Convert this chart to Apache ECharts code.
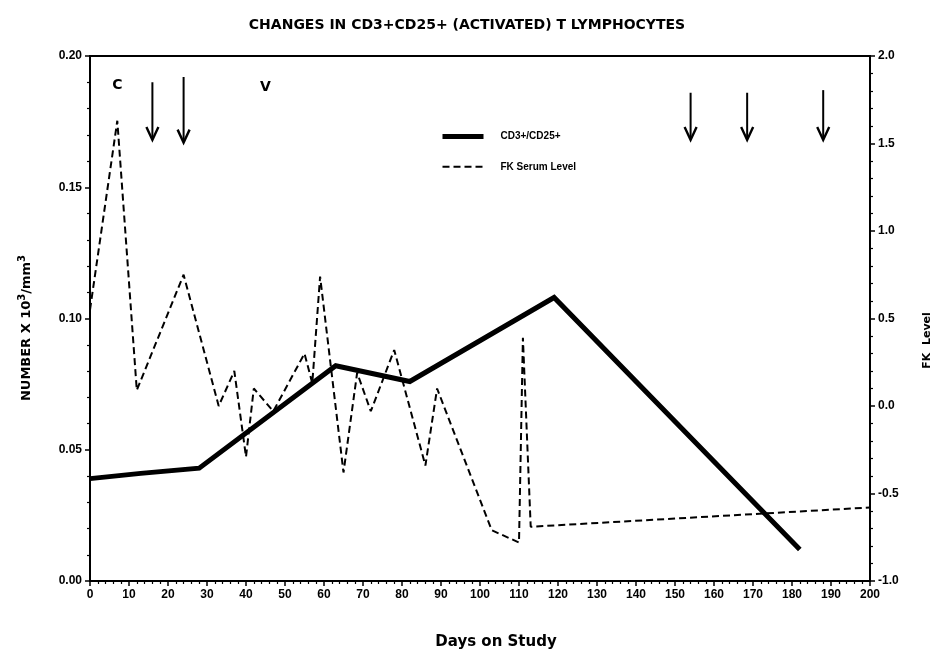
<!DOCTYPE html>
<html>
<head>
<meta charset="utf-8">
<script src="https://cdn.jsdelivr.net/npm/echarts@6/dist/echarts.min.js"></script>
<style>
  html, body { margin: 0; padding: 0; background: #fff; }
  #main { width: 934px; height: 649px; }
</style>
</head>
<body>
<div id="main"></div>
<script>
// CD3+/CD25+ count (x 10^3 / mm3) by study day
const cdDays = [0, 13, 28, 63, 82, 119, 182];
const cdValues = [0.039, 0.041, 0.043, 0.082, 0.076, 0.108, 0.012];

// FK serum level by study day (right axis)
const fkDays = [0, 7, 12, 24, 33, 37, 40, 42, 47, 55, 57, 59, 65, 68.5, 72, 78, 86, 89, 103, 110, 111, 113, 200];
const fkValues = [0.55, 1.63, 0.09, 0.75, 0.0, 0.2, -0.29, 0.1, -0.03, 0.3, 0.13, 0.74, -0.38, 0.19, -0.03, 0.32, -0.34, 0.1, -0.71, -0.78, 0.39, -0.69, -0.58];

// down arrows near the top: day, tail, tip (left axis units)
const arrowDays = [16, 24, 154, 168.5, 188];
const arrowTops = [0.190, 0.192, 0.186, 0.186, 0.187];
const arrowTips = [0.168, 0.167, 0.168, 0.168, 0.168];

// letter notes
const noteDays = [7, 45];
const noteValues = [0.189, 0.188];
const noteLabels = ['C', 'V'];

const FONT = '"Liberation Sans", Arial, sans-serif';
const WIDE = '"DejaVu Sans", Verdana, sans-serif';

const chart = echarts.init(document.getElementById('main'));

const boldText = function (size, family) {
    return { fontFamily: family || FONT, fontWeight: 'bold', fontSize: size, color: '#000' };
};

const axisCommon = {
    axisLine: { show: true, lineStyle: { color: '#000', width: 2 } },
    axisTick: { show: true, length: 5, lineStyle: { color: '#000', width: 1.5 } },
    minorTick: { show: true, splitNumber: 5, length: 3, lineStyle: { color: '#000', width: 1.2 } },
    splitLine: { show: false },
    minorSplitLine: { show: false }
};

const option = {
    backgroundColor: '#fff',
    animation: false,
    title: {
        text: 'CHANGES IN CD3+CD25+ (ACTIVATED) T LYMPHOCYTES',
        left: 'center',
        top: 13,
        textStyle: boldText(14, WIDE)
    },
    grid: {
        left: 90, right: 64, top: 56, bottom: 68,
        outerBoundsMode: 'none',
        containLabel: false,
        show: true, borderColor: '#000', borderWidth: 2
    },
    legend: {
        orient: 'vertical',
        left: 440,
        top: 131,
        padding: 0,
        itemWidth: 41,
        itemHeight: 14,
        itemGap: 19,
        data: [
            { name: 'CD3+/CD25+', lineStyle: { width: 5 }, itemStyle: { opacity: 0 } },
            { name: 'FK Serum Level', lineStyle: { width: 2 }, itemStyle: { opacity: 0 } }
        ],
        textStyle: Object.assign(boldText(10), { padding: [0, 0, 0, 12] })
    },
    xAxis: Object.assign({
        type: 'value',
        min: 0, max: 200, interval: 10,
        name: 'Days on Study',
        nameLocation: 'middle',
        nameGap: 54,
        nameTextStyle: Object.assign(boldText(15, WIDE), { padding: [0, 0, 0, 32] }),
        axisLabel: Object.assign(boldText(12), { margin: 8 })
    }, axisCommon),
    yAxis: [
        Object.assign({
            type: 'value',
            position: 'left',
            min: 0, max: 0.2, interval: 0.05,
            name: '{b|NUMBER X 10}{s|3}{b|/mm}{s|3}',
            nameLocation: 'middle',
            nameRotate: 90,
            nameGap: 54,
            nameTextStyle: {
                padding: [0, 19, 0, 0],
                rich: {
                    b: boldText(13, WIDE),
                    s: Object.assign(boldText(10, WIDE), { verticalAlign: 'bottom', padding: [0, 0, 9, 0] })
                }
            },
            axisLabel: Object.assign(boldText(12), {
                margin: 8,
                formatter: function (v) { return v.toFixed(2); }
            })
        }, axisCommon),
        Object.assign({
            type: 'value',
            position: 'right',
            min: -1, max: 2, interval: 0.5,
            name: 'FK  Level',
            nameLocation: 'middle',
            nameRotate: 90,
            nameGap: 52,
            nameTextStyle: Object.assign(boldText(11, WIDE), { padding: [0, 44, 0, 0] }),
            axisLabel: Object.assign(boldText(12), {
                margin: 8,
                formatter: function (v) { return v.toFixed(1); }
            })
        }, axisCommon)
    ],
    series: [
        {
            name: 'CD3+/CD25+',
            type: 'line',
            yAxisIndex: 0,
            symbol: 'none',
            data: cdDays.map(function (d, i) { return [d, cdValues[i]]; }),
            lineStyle: { color: '#000', width: 5, join: 'miter' },
            itemStyle: { color: '#000' },
            z: 3
        },
        {
            name: 'FK Serum Level',
            type: 'line',
            yAxisIndex: 1,
            symbol: 'none',
            data: fkDays.map(function (d, i) { return [d, fkValues[i]]; }),
            lineStyle: { color: '#000', width: 2, type: [7, 4] },
            itemStyle: { color: '#000' },
            z: 2
        },
        {
            name: 'arrows',
            type: 'custom',
            yAxisIndex: 0,
            silent: true,
            data: arrowDays.map(function (d, i) { return [d, arrowTops[i], arrowTips[i]]; }),
            encode: { x: 0, y: [1, 2] },
            renderItem: function (params, api) {
                const tail = api.coord([api.value(0), api.value(1)]);
                const tip = api.coord([api.value(0), api.value(2)]);
                return {
                    type: 'group',
                    children: [
                        {
                            type: 'line',
                            shape: { x1: tail[0], y1: tail[1], x2: tip[0], y2: tip[1] - 1 },
                            style: { stroke: '#000', lineWidth: 2 }
                        },
                        {
                            type: 'polyline',
                            shape: { points: [[tip[0] - 6, tip[1] - 13], [tip[0], tip[1]], [tip[0] + 6, tip[1] - 13]] },
                            style: { stroke: '#000', fill: null, lineWidth: 2.4 }
                        }
                    ]
                };
            }
        },
        {
            name: 'notes',
            type: 'scatter',
            yAxisIndex: 0,
            silent: true,
            symbolSize: 0,
            itemStyle: { opacity: 1, color: '#000' },
            data: noteDays.map(function (d, i) { return [d, noteValues[i], noteLabels[i]]; }),
            label: Object.assign(boldText(14, WIDE), {
                show: true,
                position: 'inside',
                textBorderWidth: 0,
                formatter: function (p) { return p.data[2]; }
            })
        }
    ]
};

chart.setOption(option);
</script>
</body>
</html>
